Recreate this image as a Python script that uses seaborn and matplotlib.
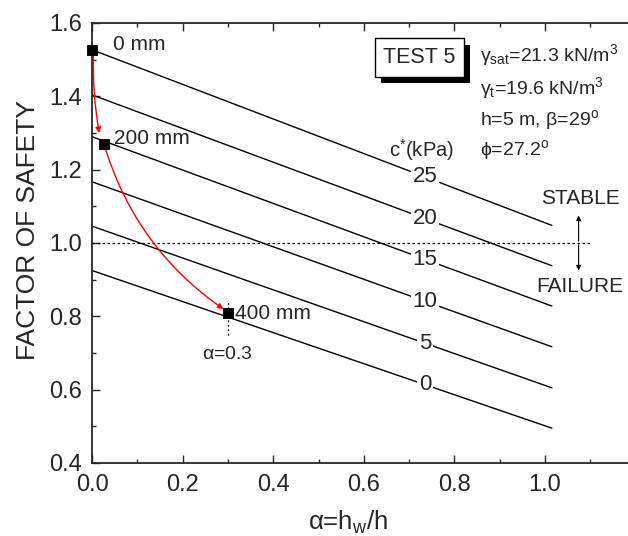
import numpy as np
import pandas as pd
import matplotlib
matplotlib.use('Agg')
import matplotlib.pyplot as plt
import matplotlib.patheffects as pe
from matplotlib.ticker import MultipleLocator, FormatStrFormatter
import seaborn as sns

# c* lines (kPa): factor of safety at alpha = 0 and at the right end of each line
c_kpa = [0, 5, 10, 15, 20, 25]
fs_start = [0.925, 1.046, 1.167, 1.290, 1.404, 1.527]
fs_end = [0.495, 0.605, 0.717, 0.828, 0.938, 1.048]
alpha_span = [0.0, 1.015]

# measured water levels during test 5
depth_labels = ['0 mm', '200 mm', '400 mm']
depth_alpha = [0.0, 0.026, 0.30]
depth_fs = [1.527, 1.270, 0.808]

sns.set_style('ticks')
plt.rcParams['font.family'] = ['Liberation Sans', 'DejaVu Sans']
plt.rcParams['mathtext.default'] = 'regular'

# long table for seaborn
rows = []
for c, a, b in zip(c_kpa, fs_start, fs_end):
    rows.append({'c': c, 'alpha': alpha_span[0], 'fs': a})
    rows.append({'c': c, 'alpha': alpha_span[1], 'fs': b})
lines = pd.DataFrame(rows)
pts = pd.DataFrame({'label': depth_labels, 'alpha': depth_alpha, 'fs': depth_fs})

fig = plt.figure(figsize=(6.28, 5.36), dpi=100)
ax = fig.add_axes([0.1465, 0.1362, 0.8535, 0.8209])

sns.lineplot(data=lines, x='alpha', y='fs', units='c', estimator=None,
             color='black', lw=1, ax=ax)

# FS = 1 threshold
ax.plot([0, 1.103], [1.0, 1.0], color='black', lw=0.9, dashes=(2, 2))

# c* labels sitting on the lines
lab_x = 0.735
for c, a, b in zip(c_kpa, fs_start, fs_end):
    y = np.interp(lab_x, alpha_span, [a, b])
    ax.text(lab_x, y, str(c), ha='center', va='center', fontsize=16,
            bbox=dict(fc='white', ec='none', pad=1.0), zorder=4)
ax.text(0.728, 1.254, r'c$^{*}$(kPa)', ha='center', va='center', fontsize=14.5)

# measured points
sns.scatterplot(data=pts, x='alpha', y='fs', marker='s', color='black',
                edgecolor='black', s=60, ax=ax, zorder=6, clip_on=False, legend=False)
offsets = [(15, 4), (7, 4), (5, 0)]
for lab, a, f, off in zip(depth_labels, depth_alpha, depth_fs, offsets):
    ax.annotate(lab, (a, f), xytext=off, textcoords='offset points',
                ha='left', va='center', fontsize=15)

# alpha = 0.3 marker line
ax.plot([depth_alpha[2]] * 2, [depth_fs[2] - 0.06, depth_fs[2] + 0.032],
        color='black', lw=0.9, dashes=(1.5, 2))
ax.text(depth_alpha[2], 0.697, r'$\alpha$=0.3', ha='center', va='center', fontsize=14)

# red path between the measured points
red = dict(arrowstyle='-|>', color='red', lw=1, mutation_scale=8, shrinkA=0, shrinkB=0)
ax.annotate('', xy=(depth_alpha[1] - 0.01, depth_fs[1] + 0.03),
            xytext=(depth_alpha[0] + 0.003, depth_fs[0] - 0.012),
            arrowprops=dict(red, connectionstyle='arc3,rad=0.05'))
ax.annotate('', xy=(depth_alpha[2] - 0.01, depth_fs[2] + 0.012),
            xytext=(depth_alpha[1] + 0.004, depth_fs[1] - 0.015),
            arrowprops=dict(red, connectionstyle='arc3,rad=0.17'))

# stable / failure arrows
blk = dict(arrowstyle='-|>', color='black', lw=0.8, mutation_scale=7, shrinkA=0, shrinkB=0)
ax.annotate('', xy=(1.074, 1.075), xytext=(1.074, 1.005), arrowprops=blk)
ax.annotate('', xy=(1.074, 0.925), xytext=(1.074, 0.995), arrowprops=blk)
ax.text(1.077, 1.122, 'STABLE', ha='center', va='center', fontsize=15)
ax.text(1.077, 0.881, 'FAILURE', ha='center', va='center', fontsize=15)

# TEST 5 box with shadow
t = ax.text(0.7225, 1.506, 'TEST 5', ha='center', va='center', fontsize=15.5,
            bbox=dict(boxstyle='square,pad=0.4', fc='white', ec='black', lw=1))
t.get_bbox_patch().set_path_effects([
    pe.SimplePatchShadow(offset=(4.5, -4.5), shadow_rgbFace='black', alpha=1),
    pe.Normal()])

params = [r'$\gamma_{sat}$=21.3 kN/m$^3$', r'$\gamma_t$=19.6 kN/m$^3$',
          r'h=5 m, $\beta$=29$^o$', r'$\phi$=27.2$^o$']
param_y = [1.513, 1.422, 1.335, 1.253]
for s, y in zip(params, param_y):
    ax.text(0.857, y, s, ha='left', va='center', fontsize=14)

ax.set_xlim(0, 1.183)
ax.set_ylim(0.4, 1.6)
ax.set_xticks([0, 0.2, 0.4, 0.6, 0.8, 1.0])
ax.xaxis.set_minor_locator(MultipleLocator(0.1))
ax.yaxis.set_major_locator(MultipleLocator(0.2))
ax.yaxis.set_minor_locator(MultipleLocator(0.1))
ax.xaxis.set_major_formatter(FormatStrFormatter('%.1f'))
ax.yaxis.set_major_formatter(FormatStrFormatter('%.1f'))
ax.tick_params(which='both', direction='in', top=True, right=False, width=1, labelsize=17)
ax.tick_params(which='major', length=6)
ax.tick_params(which='minor', length=3)
ax.tick_params(axis='x', pad=8)
ax.tick_params(axis='y', pad=7)
ax.spines['right'].set_visible(False)
for s in ['left', 'bottom', 'top']:
    ax.spines[s].set_linewidth(1.3)

ax.set_xlabel(r'$\alpha$=h$_w$/h', fontsize=18.5)
ax.set_ylabel('FACTOR OF SAFETY', fontsize=19)
ax.xaxis.set_label_coords(0.478, -0.105)
ax.yaxis.set_label_coords(-0.097, 0.53)

fig.savefig('out.png', dpi=100)
